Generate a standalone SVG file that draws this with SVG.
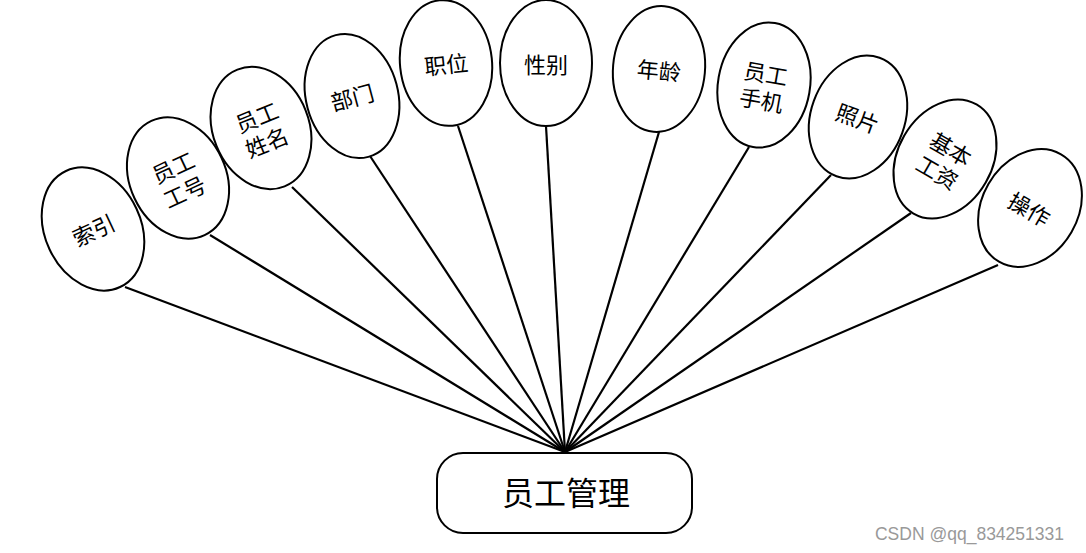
<svg xmlns="http://www.w3.org/2000/svg" width="1086" height="553" viewBox="0 0 1086 553">
<style>
.n ellipse{fill:#fff;stroke:#000;stroke-width:2}
.n text,.b text{font-family:"Noto Sans CJK SC","Noto Sans",sans-serif;fill:#000;text-anchor:middle;dominant-baseline:central}
.n text{font-size:22px}
#conn line{stroke:#000;stroke-width:2.2}
</style>
<rect width="1086" height="553" fill="#fff"/>
<g id="conn">
<line x1="125" y1="287" x2="565" y2="452"/>
<line x1="210" y1="235" x2="565" y2="452"/>
<line x1="292" y1="187" x2="565" y2="452"/>
<line x1="370" y1="156" x2="565" y2="452"/>
<line x1="458" y1="126" x2="565" y2="452"/>
<line x1="546" y1="126" x2="565" y2="452"/>
<line x1="659" y1="132" x2="565" y2="452"/>
<line x1="749" y1="147" x2="565" y2="452"/>
<line x1="831" y1="175" x2="565" y2="452"/>
<line x1="911" y1="213" x2="565" y2="452"/>
<line x1="998" y1="265" x2="565" y2="452"/>
</g>
<g id="n1" class="n" transform="translate(93,229) rotate(-25)"><ellipse rx="48" ry="64"/><text>索引</text></g>
<g id="n2" class="n" transform="translate(178,178) rotate(-25)"><ellipse rx="48" ry="63"/><text y="-13">员工</text><text y="14">工号</text></g>
<g id="n3" class="n" transform="translate(261,128) rotate(-22)"><ellipse rx="48" ry="63"/><text y="-13">员工</text><text y="14">姓名</text></g>
<g id="n4" class="n" transform="translate(352,96) rotate(-15)"><ellipse rx="46" ry="63"/><text>部门</text></g>
<g id="n5" class="n" transform="translate(446,63) rotate(-6)"><ellipse rx="46" ry="63"/><text>职位</text></g>
<g id="n6" class="n" transform="translate(546,63) rotate(0)"><ellipse rx="46" ry="63"/><text>性别</text></g>
<g id="n7" class="n" transform="translate(659,69) rotate(5)"><ellipse rx="46" ry="63"/><text>年龄</text></g>
<g id="n8" class="n" transform="translate(764,85) rotate(10)"><ellipse rx="46" ry="63"/><text y="-13">员工</text><text y="14">手机</text></g>
<g id="n9" class="n" transform="translate(858,117) rotate(20)"><ellipse rx="47" ry="63"/><text>照片</text></g>
<g id="n10" class="n" transform="translate(945,159) rotate(30)"><ellipse rx="47" ry="63"/><text y="-13">基本</text><text y="14">工资</text></g>
<g id="n11" class="n" transform="translate(1030,208) rotate(30)"><ellipse rx="48" ry="62"/><text>操作</text></g>
<g id="main" class="b"><rect x="437" y="453" width="255" height="80" rx="26" fill="#fff" stroke="#000" stroke-width="2"/><text x="566" y="491" font-size="32">员工管理</text></g>
<text x="1064" y="540" font-family="Liberation Sans,sans-serif" font-size="17.5" fill="#999" text-anchor="end">CSDN @qq_834251331</text>
</svg>
